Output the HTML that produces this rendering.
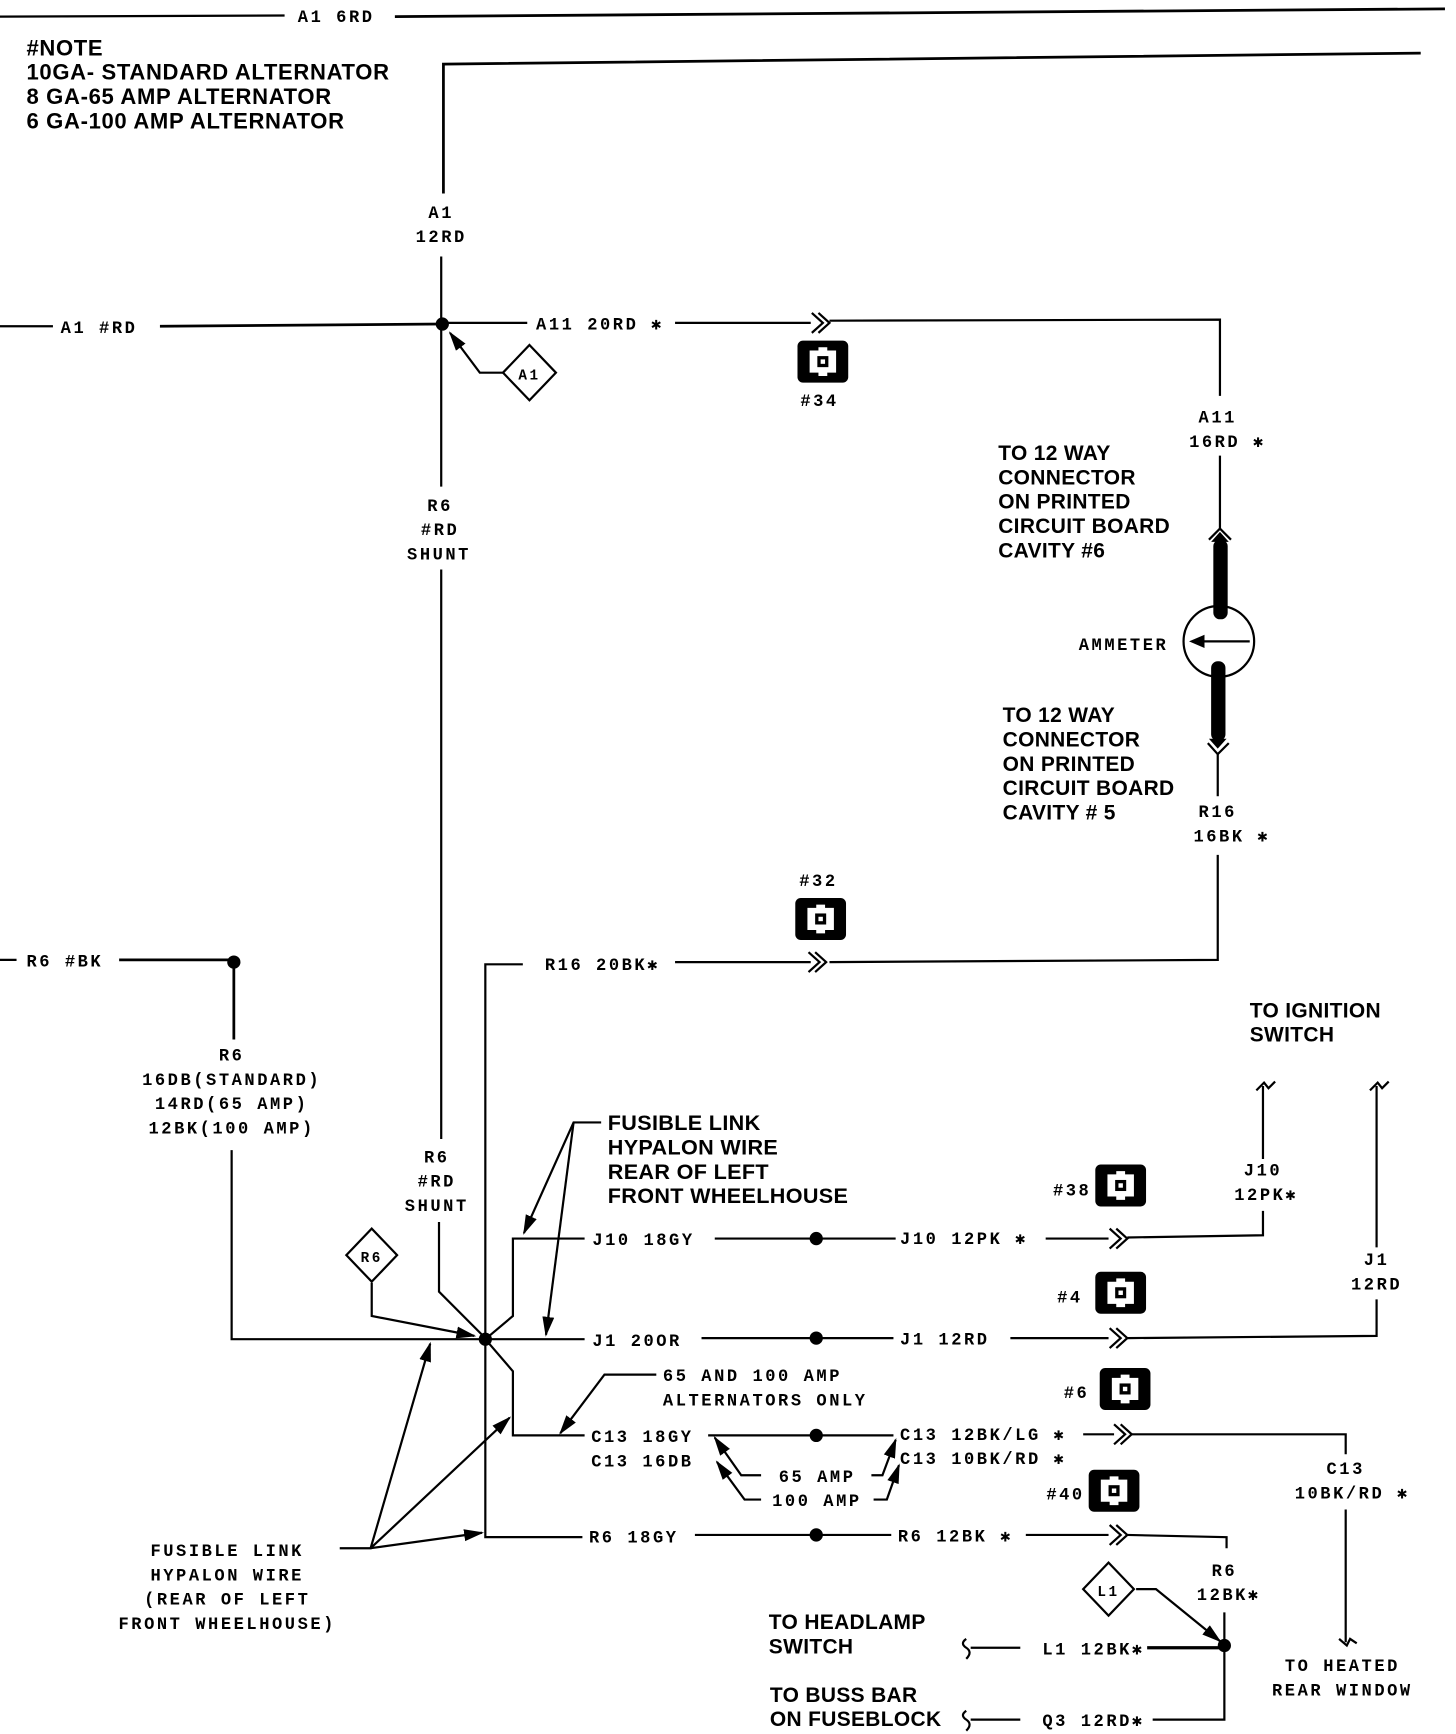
<!DOCTYPE html>
<html><head><meta charset="utf-8"><style>
html,body{margin:0;padding:0;background:#fff;}
svg{display:block;}
.l{font-family:"Liberation Mono",monospace;font-weight:bold;font-size:15.5px;letter-spacing:2.3px;fill:#000;}
.b{font-family:"Liberation Sans",sans-serif;font-weight:bold;font-size:19px;letter-spacing:0.3px;fill:#000;}
.n{font-family:"Liberation Sans",sans-serif;font-weight:bold;font-size:20px;letter-spacing:0.6px;fill:#000;}
</style></head><body>
<svg width="1456" height="1734" viewBox="0 0 1320 1568" preserveAspectRatio="none" xmlns="http://www.w3.org/2000/svg">
<defs>
<marker id="ah" viewBox="0 0 10 10" refX="9" refY="5" markerWidth="9" markerHeight="9" orient="auto"><path d="M0,2 L10,5 L0,8 z" fill="#000"/></marker>
<g id="con"><rect x="-23" y="-19" width="46" height="38" rx="5" fill="#000"/><path d="M-12,-10 H-4 V-13 H4 V-10 H12 V10 H4 V13 H-4 V10 H-12 Z" fill="#fff"/><rect x="-5" y="-5" width="10" height="10" fill="#000"/><rect x="-2" y="-2" width="4" height="4" fill="#fff"/></g>
<path id="chev" d="M-9,-9 L1,0 L-9,9 M-3,-9 L7,0 L-3,9" fill="none" stroke="#000" stroke-width="2"/>
</defs>
<g stroke="#000" stroke-width="2" fill="none">
<path d="M0,15 L258,14"/><path d="M358,15 L1310,8" stroke-width="2.5"/>
<path d="M402,175 V58 L1288,48" stroke-width="2.5"/>
<path d="M400,232 V440"/>
<path d="M0,295 H48"/><path d="M145,295 L400,293" stroke-width="2.5"/>
<path d="M400,292 H478"/><path d="M612,292 H735"/><path d="M752,290 L1106,289 V358"/>
<path d="M456,337 H435 L408,301" marker-end="url(#ah)"/>
<path d="M1106,412 V478"/>
<path d="M1096,488 L1106,478 L1116,488"/>
<path d="M1104,682 V720"/>
<path d="M1095,672 L1104,682 L1114,672"/>
<path d="M1104,773 V868 L752,870"/><path d="M612,870 H735"/><path d="M474,872 H440 V1390 H528"/>
<path d="M400,515 V1030"/>
<path d="M0,868 H15"/><path d="M108,868 H212 V940" stroke-width="2.5"/>
<path d="M210,1040 V1211 H438"/>
<path d="M398,1105 V1168 L438,1208"/>
<path d="M337,1160 V1190 L430,1208" marker-end="url(#ah)"/>
<path d="M440,1211 L465,1190 V1120 H530"/><path d="M648,1120 H812"/><path d="M948,1120 H1005"/><path d="M1022,1119 L1145,1117 V1095"/>
<path d="M1145,1048 V982 M1139,986 L1146,979 L1150,984 L1156,978"/>
<path d="M440,1211 H530"/><path d="M636,1210 H810"/><path d="M916,1210 H1005"/><path d="M1022,1210 L1248,1208 V1175"/>
<path d="M1248,1128 V982 M1242,986 L1249,979 L1253,984 L1259,978"/>
<path d="M440,1211 L465,1240 V1298 H530"/><path d="M642,1298 H810"/><path d="M982,1297 H1010"/><path d="M1026,1297 H1220 V1315"/>
<path d="M1220,1365 V1485 M1214,1482 L1221,1488 L1224,1482 L1230,1486"/>
<path d="M595,1243 H548 L508,1296" marker-end="url(#ah)"/>
<path d="M690,1334 H672 L648,1300" marker-end="url(#ah)"/>
<path d="M790,1334 H800 L812,1302" marker-end="url(#ah)"/>
<path d="M690,1356 H675 L650,1322" marker-end="url(#ah)"/>
<path d="M792,1356 H804 L815,1325" marker-end="url(#ah)"/>
<path d="M630,1388 H808"/><path d="M930,1388 H1005"/><path d="M1022,1388 L1112,1390 V1400"/>
<path d="M1110,1458 V1555 H1045"/>
<path d="M1030,1437 H1048 L1106,1484" marker-end="url(#ah)"/>
<path d="M1040,1490 H1110" stroke-width="3"/><path d="M880,1490 H925"/>
<path d="M880,1555 H925"/>
<path d="M876,1482 Q870,1486 876,1490 Q882,1494 876,1500"/>
<path d="M876,1547 Q870,1551 876,1555 Q882,1559 876,1565"/>
<path d="M545,1015 H520 L475,1115" marker-end="url(#ah)"/>
<path d="M520,1015 L495,1207" marker-end="url(#ah)"/>
<path d="M308,1400 H336 L390,1215" marker-end="url(#ah)"/>
<path d="M336,1400 L462,1282" marker-end="url(#ah)"/>
<path d="M336,1400 L437,1386" marker-end="url(#ah)"/>
<path d="M480,312 L504,337 L480,362 L456,337 Z"/>
<path d="M337,1111 L360,1135 L337,1159 L314,1135 Z"/>
<path d="M1005,1413 L1028,1437 L1005,1461 L982,1437 Z"/>
<circle cx="1105" cy="580" r="32"/>
<path d="M1133,580 H1090"/>
</g>
<path d="M1078,580 L1092,574 L1092,586 Z" fill="#000"/>
<rect x="1100" y="488" width="13" height="72" rx="6" fill="#000"/>
<rect x="1098" y="598" width="13" height="72" rx="6" fill="#000"/>
<path d="M1098,490 L1106,481 L1114,490 Z M1096,668 L1104,677 L1112,668 Z" fill="#000"/>
<g fill="#000">
<circle cx="401" cy="293" r="6"/><circle cx="212" cy="870" r="6"/><circle cx="440" cy="1211" r="6"/>
<circle cx="740" cy="1120" r="6"/><circle cx="740" cy="1210" r="6"/><circle cx="740" cy="1298" r="6"/><circle cx="740" cy="1388" r="6"/>
<circle cx="1110" cy="1488" r="6"/>
</g>
<use href="#chev" x="745" y="292"/><use href="#chev" x="742" y="870"/>
<use href="#chev" x="1015" y="1120"/><use href="#chev" x="1015" y="1210"/><use href="#chev" x="1019" y="1297"/><use href="#chev" x="1015" y="1388"/>
<use href="#con" x="746" y="327"/><use href="#con" x="744" y="831"/>
<use href="#con" x="1016" y="1072"/><use href="#con" x="1016" y="1169"/><use href="#con" x="1020" y="1256"/><use href="#con" x="1010" y="1348"/>
<text class="n" x="24" y="50">#NOTE</text>
<text class="n" x="24" y="72">10GA- STANDARD ALTERNATOR</text>
<text class="n" x="24" y="94">8 GA-65 AMP ALTERNATOR</text>
<text class="n" x="24" y="116">6 GA-100 AMP ALTERNATOR</text>
<text class="b" x="905" y="416">TO 12 WAY</text><text class="b" x="905" y="438">CONNECTOR</text><text class="b" x="905" y="460">ON PRINTED</text><text class="b" x="905" y="482">CIRCUIT BOARD</text><text class="b" x="905" y="504">CAVITY #6</text>
<text class="b" x="909" y="653">TO 12 WAY</text><text class="b" x="909" y="675">CONNECTOR</text><text class="b" x="909" y="697">ON PRINTED</text><text class="b" x="909" y="719">CIRCUIT BOARD</text><text class="b" x="909" y="741">CAVITY # 5</text>
<text class="b" x="1133" y="920">TO IGNITION</text><text class="b" x="1133" y="942">SWITCH</text>
<text class="b" x="551" y="1022" style="font-size:19.6px">FUSIBLE LINK</text><text class="b" x="551" y="1044" style="font-size:19.6px">HYPALON WIRE</text><text class="b" x="551" y="1066" style="font-size:19.6px">REAR OF LEFT</text><text class="b" x="551" y="1088" style="font-size:19.6px">FRONT WHEELHOUSE</text>
<text class="b" x="697" y="1473">TO HEADLAMP</text><text class="b" x="697" y="1495">SWITCH</text>
<text class="b" x="698" y="1539">TO BUSS BAR</text><text class="b" x="698" y="1561">ON FUSEBLOCK</text>
<g class="l">
<text x="270" y="20">A1 6RD</text>
<text x="400" y="197" text-anchor="middle">A1</text><text x="400" y="219" text-anchor="middle">12RD</text>
<text x="55" y="301">A1 #RD</text>
<text x="486" y="298">A11 20RD ✱</text>
<text x="480" y="343" text-anchor="middle" font-size="13">A1</text>
<text x="743" y="367" text-anchor="middle">#34</text>
<text x="1104" y="382" text-anchor="middle">A11</text><text x="1078" y="404">16RD ✱</text>
<text x="978" y="588">AMMETER</text>
<text x="1104" y="739" text-anchor="middle">R16</text><text x="1082" y="761">16BK ✱</text>
<text x="742" y="801" text-anchor="middle">#32</text>
<text x="399" y="462" text-anchor="middle">R6</text><text x="399" y="484" text-anchor="middle">#RD</text><text x="398" y="506" text-anchor="middle">SHUNT</text>
<text x="24" y="874">R6 #BK</text>
<text x="494" y="877">R16 20BK✱</text>
<text x="210" y="959" text-anchor="middle">R6</text>
<text x="210" y="981" text-anchor="middle">16DB(STANDARD)</text>
<text x="210" y="1003" text-anchor="middle">14RD(65 AMP)</text>
<text x="210" y="1025" text-anchor="middle">12BK(100 AMP)</text>
<text x="396" y="1051" text-anchor="middle">R6</text><text x="396" y="1073" text-anchor="middle">#RD</text><text x="396" y="1095" text-anchor="middle">SHUNT</text>
<text x="337" y="1141" text-anchor="middle" font-size="13">R6</text>
<text x="537" y="1126">J10 18GY</text><text x="816" y="1125">J10 12PK ✱</text>
<text x="972" y="1081" text-anchor="middle">#38</text>
<text x="1145" y="1063" text-anchor="middle">J10</text><text x="1148" y="1085" text-anchor="middle">12PK✱</text>
<text x="970" y="1178" text-anchor="middle">#4</text>
<text x="1248" y="1144" text-anchor="middle">J1</text><text x="1248" y="1166" text-anchor="middle">12RD</text>
<text x="537" y="1217">J1 20OR</text><text x="816" y="1216">J1 12RD</text>
<text x="601" y="1249">65 AND 100 AMP</text><text x="601" y="1271">ALTERNATORS ONLY</text>
<text x="976" y="1264" text-anchor="middle">#6</text>
<text x="536" y="1304">C13 18GY</text><text x="536" y="1326">C13 16DB</text>
<text x="816" y="1302">C13 12BK/LG ✱</text><text x="816" y="1324">C13 10BK/RD ✱</text>
<text x="706" y="1340">65 AMP</text><text x="700" y="1362">100 AMP</text>
<text x="1220" y="1333" text-anchor="middle">C13</text><text x="1226" y="1355" text-anchor="middle">10BK/RD ✱</text>
<text x="966" y="1356" text-anchor="middle">#40</text>
<text x="534" y="1395">R6 18GY</text><text x="814" y="1394">R6 12BK ✱</text>
<text x="1110" y="1425" text-anchor="middle">R6</text><text x="1114" y="1447" text-anchor="middle">12BK✱</text>
<text x="1005" y="1443" text-anchor="middle" font-size="13">L1</text>
<text x="945" y="1496">L1 12BK✱</text><text x="945" y="1561">Q3 12RD✱</text>
<text x="1217" y="1511" text-anchor="middle">TO HEATED</text><text x="1217" y="1533" text-anchor="middle">REAR WINDOW</text>
<text x="206" y="1407" text-anchor="middle">FUSIBLE LINK</text>
<text x="206" y="1429" text-anchor="middle">HYPALON WIRE</text>
<text x="206" y="1451" text-anchor="middle">(REAR OF LEFT</text>
<text x="206" y="1473" text-anchor="middle">FRONT WHEELHOUSE)</text>
</g>
</svg>
</body></html>
